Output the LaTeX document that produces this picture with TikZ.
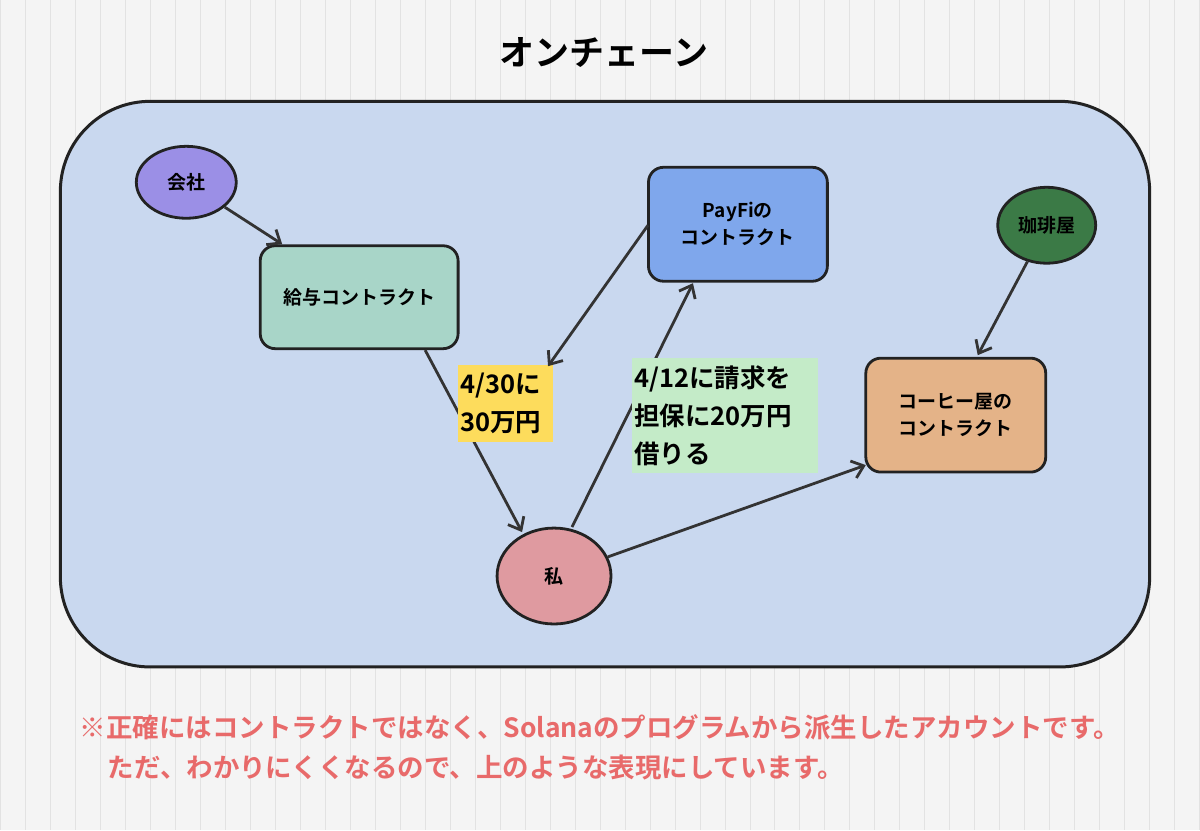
\documentclass[tikz,border=0pt]{standalone}
\usepackage{fontspec}
\setmainfont{Noto Sans CJK JP}[BoldFont={* Bold}]
\usetikzlibrary{shapes.geometric,arrows.meta}
\definecolor{bg}{HTML}{F4F4F4}
\definecolor{gridc}{HTML}{E2E2E2}
\definecolor{panel}{HTML}{C9D8EF}
\definecolor{cA}{HTML}{9B8FE6}
\definecolor{cB}{HTML}{A8D5C8}
\definecolor{cC}{HTML}{7FA7EC}
\definecolor{cD}{HTML}{3B7A46}
\definecolor{cE}{HTML}{E4B388}
\definecolor{cF}{HTML}{DF9AA0}
\definecolor{cY}{HTML}{FDDC5C}
\definecolor{cG}{HTML}{C4EBC8}
\definecolor{note}{HTML}{E86A6A}
\definecolor{ink}{HTML}{222222}
\definecolor{arr}{HTML}{333333}
\begin{document}
\begin{tikzpicture}[x=1pt,y=-1pt,
  box/.style={draw=ink,line width=2.8pt,rounded corners=15pt,font=\bfseries\fontsize{19}{27}\selectfont,align=center,inner sep=0pt},
  ell/.style={ellipse,draw=ink,line width=2.8pt,font=\bfseries\fontsize{19}{24}\selectfont,inner sep=0pt},
  lab/.style={font=\bfseries\fontsize{25.5}{38}\selectfont,align=left,inner xsep=2pt,inner ysep=3pt,anchor=north west},
  con/.style={draw=arr,line width=2.8pt,-{Straight Barb[length=11pt,width=18pt]}}]
\fill[bg] (0,0) rectangle (1200,830);
\draw[gridc,line width=0.8pt,step=25] (0,0) grid (1200,830);
\useasboundingbox (0,0) rectangle (1200,830);
\node[font=\bfseries\fontsize{35}{40}\selectfont] (title) at (604,52) {オンチェーン};
\draw[ink,line width=3pt,fill=panel,rounded corners=90pt] (60,101) rectangle (1150,667);
\node[ell,fill=cA,minimum width=100pt,minimum height=72pt] (kaisha) at (186,182) {会社};
\node[box,fill=cB,minimum width=198pt,minimum height=103pt] (kyuyo) at (359,297) {給与コントラクト};
\node[box,fill=cC,minimum width=179pt,minimum height=114pt] (payfi) at (738,224) {PayFiの\\コントラクト};
\node[ell,fill=cD,minimum width=98pt,minimum height=76pt] (cafe) at (1047,225) {珈琲屋};
\node[box,fill=cE,minimum width=180pt,minimum height=114pt] (cc) at (956,415) {コーヒー屋の\\コントラクト};
\node[ell,fill=cF,minimum width=114pt,minimum height=96pt] (me) at (554,576) {私};
\draw[con] (kaisha) -- (282,244);
\draw[con] (kyuyo.south) ++(66,0) coordinate (k1) (k1) -- (522,532);
\node[lab,fill=cY,text width=91pt,minimum height=77pt] (l1) at (458,365) {4/30に\\30万円};
\coordinate (t1) at (548,366);
\draw[con] (648,225) -- (t1);
\draw[con] (572,527) -- (693,283);
\node[lab,fill=cG,text width=182pt,minimum height=115pt] (l2) at (632,358) {4/12に請求を\\担保に20万円\\借りる};
\draw[con] (cafe) -- (978,355);
\draw[con] (me) -- (866,465);
\node[font=\bfseries\fontsize{26.5}{30}\selectfont,text=note,anchor=west] (n1) at (76,727) {※正確にはコントラクトではなく、Solanaのプログラムから派生したアカウントです。};
\node[font=\bfseries\fontsize{26.5}{30}\selectfont,text=note,anchor=west] (n2) at (104,768) {ただ、わかりにくくなるので、上のような表現にしています。};
\end{tikzpicture}
\end{document}
